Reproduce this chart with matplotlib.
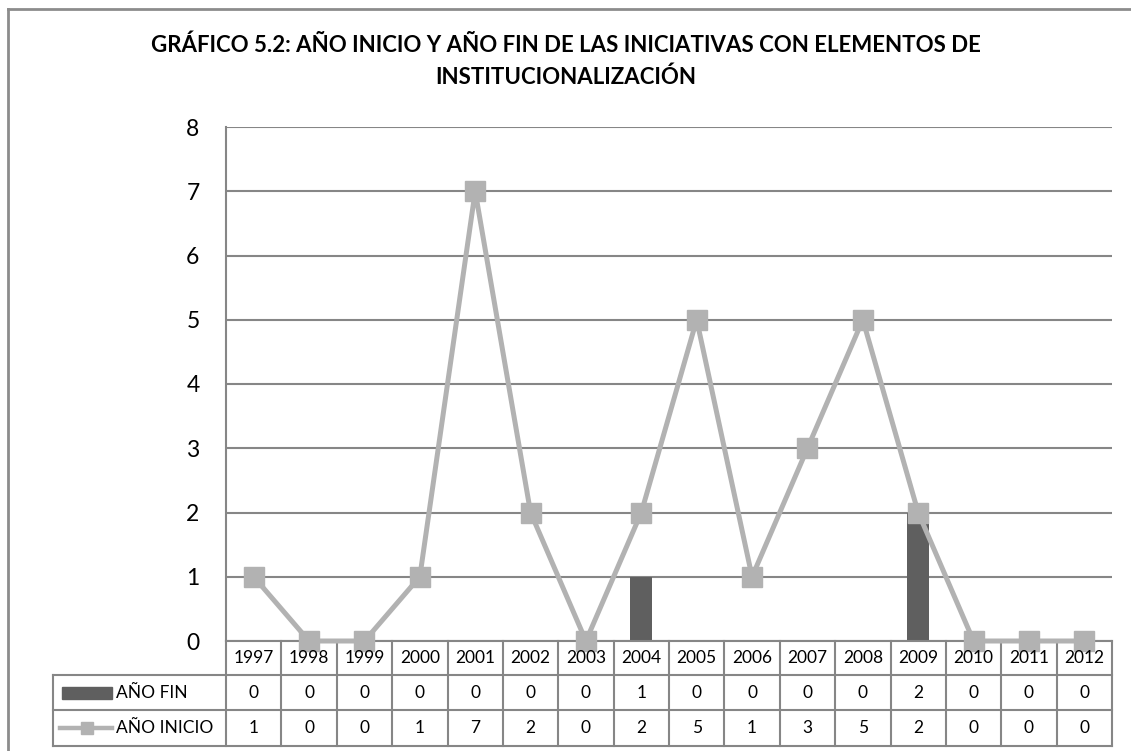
import matplotlib
matplotlib.use("Agg")
import matplotlib.pyplot as plt
from matplotlib.lines import Line2D
from matplotlib.patches import Rectangle
import matplotlib.transforms as mtransforms
import numpy as np

plt.rcParams['font.family'] = ['Lato', 'DejaVu Sans']

years = ["1997", "1998", "1999", "2000", "2001", "2002", "2003", "2004",
         "2005", "2006", "2007", "2008", "2009", "2010", "2011", "2012"]
ano_fin = [0, 0, 0, 0, 0, 0, 0, 1, 0, 0, 0, 0, 2, 0, 0, 0]
ano_inicio = [1, 0, 0, 1, 7, 2, 0, 2, 5, 1, 3, 5, 2, 0, 0, 0]
series_names = ["AÑO FIN", "AÑO INICIO"]
title = "GRÁFICO 5.2: AÑO INICIO Y AÑO FIN DE LAS INICIATIVAS CON ELEMENTOS DE\nINSTITUCIONALIZACIÓN"

W, H = 1131, 751
BAR_C = "#5f5f5f"
LINE_C = "#b2b2b2"
GRID_C = "#868686"

fig = plt.figure(figsize=(W / 100, H / 100), dpi=100)
# plot area in pixels
L, R, T, B = 226, 1112, 127, 641
ax = fig.add_axes([L / W, (H - B) / H, (R - L) / W, (B - T) / H])

x = np.arange(len(years))
ax.bar(x, ano_fin, width=0.4, color=BAR_C, zorder=2)
ax.plot(x, ano_inicio, color=LINE_C, lw=3.6, marker='s', ms=14,
        mfc=LINE_C, mec=LINE_C, zorder=3, clip_on=False)

ax.set_xlim(-0.5, len(years) - 0.5)
ax.set_ylim(0, 8)
ax.set_yticks(range(0, 9))
ax.set_xticks([])
ax.tick_params(axis='y', length=0, pad=19, labelsize=16.5)
ax.yaxis.grid(True, color=GRID_C, lw=1.5, zorder=1)
for s in ['top', 'right']:
    ax.spines[s].set_visible(False)
ax.spines['left'].set_color(GRID_C)
ax.spines['left'].set_linewidth(1.5)
ax.spines['bottom'].set_color(GRID_C)
ax.spines['bottom'].set_linewidth(1.5)

fig.text(0.5, 1 - 61 / H, title, ha='center', va='center', fontsize=16,
         fontweight='bold', linespacing=1.58)

# data table below the plot (x in data units, y in axes fraction)
trans = mtransforms.blended_transform_factory(ax.transData, ax.transAxes)
ppx = len(years) / (R - L)          # data units per pixel
rows_px = [641, 675, 710, 746]
ry = [(B - p) / (B - T) for p in rows_px]
x_left = -0.5 - (L - 53) * ppx
x_right = len(years) - 0.5
lk = dict(color=GRID_C, lw=1.5, transform=trans, clip_on=False)

ax.add_line(Line2D([-0.5, -0.5], [ry[0], ry[3]], **lk))
ax.add_line(Line2D([x_right, x_right], [ry[0], ry[3]], **lk))
ax.add_line(Line2D([x_left, x_left], [ry[1], ry[3]], **lk))
for yy in ry[1:]:
    ax.add_line(Line2D([x_left, x_right], [yy, yy], **lk))
for i in range(1, len(years)):
    ax.add_line(Line2D([i - 0.5, i - 0.5], [ry[0], ry[3]], **lk))

FS = 12.5
tk = dict(ha='center', va='center', fontsize=FS, transform=trans)
for i, yr in enumerate(years):
    ax.text(i, (ry[0] + ry[1]) / 2, yr, **tk)
    ax.text(i, (ry[1] + ry[2]) / 2, str(ano_fin[i]), **tk)
    ax.text(i, (ry[2] + ry[3]) / 2, str(ano_inicio[i]), **tk)

# legend keys in row label column
y1 = (ry[1] + ry[2]) / 2
y2 = (ry[2] + ry[3]) / 2
kx0 = -0.5 - (L - 62) * ppx
kx1 = -0.5 - (L - 112) * ppx
sw_h = 12 / (B - T)
ax.add_patch(Rectangle((kx0, y1 - sw_h / 2), kx1 - kx0, sw_h, color=BAR_C,
                       transform=trans, clip_on=False))
ax.add_line(Line2D([kx0 - 2 * ppx, kx1], [y2, y2], color=LINE_C, lw=3.2,
                   transform=trans, clip_on=False))
ax.add_line(Line2D([(kx0 + kx1) / 2], [y2], color=LINE_C, marker='s', ms=9,
                   mfc=LINE_C, mec=LINE_C, transform=trans, clip_on=False))
tx = -0.5 - (L - 116) * ppx
ax.text(tx, y1, series_names[0], ha='left', va='center', fontsize=FS, transform=trans)
ax.text(tx, y2, series_names[1], ha='left', va='center', fontsize=FS, transform=trans)

# outer chart border (left and top edges visible)
fig.add_artist(Line2D([8 / W, 8 / W], [0, 1 - 9 / H], color="#8c8c8c", lw=2,
                      transform=fig.transFigure))
fig.add_artist(Line2D([8 / W, 1], [1 - 9 / H, 1 - 9 / H], color="#8c8c8c", lw=2,
                      transform=fig.transFigure))

fig.savefig("out.png", dpi=100, facecolor="white")
